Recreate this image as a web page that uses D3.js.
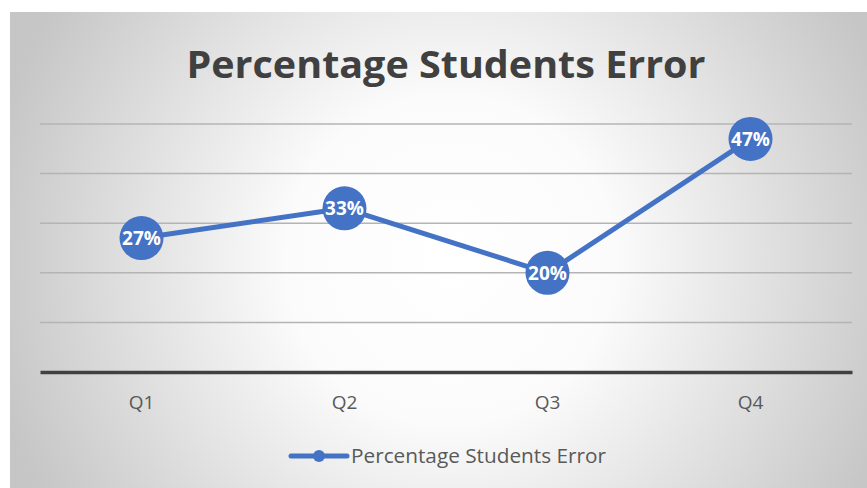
<!DOCTYPE html>
<html>
<head>
<meta charset="utf-8">
<script src="https://cdn.jsdelivr.net/npm/d3@7"></script>
<style>
  body { margin: 0; background: #fff; }
  svg { display: block; }
</style>
</head>
<body>
<svg id="chart" width="867" height="488"></svg>
<script>
// quarterly error rates
const quarters = ["Q1", "Q2", "Q3", "Q4"];
const errorRates = [27, 33, 20, 47];
const gridTicks = [0, 10, 20, 30, 40, 50];
const seriesName = "Percentage Students Error";
const chartTitle = "Percentage Students Error";

const width = 867, height = 488;
const margin = { top: 124, right: 15, bottom: 116, left: 40 };
const blue = "#4472C4";

const svg = d3.select("#chart");

// panel background: radial gray-to-white
const defs = svg.append("defs");
const grad = defs.append("radialGradient")
  .attr("id", "bg")
  .attr("gradientUnits", "userSpaceOnUse")
  .attr("cx", 450).attr("cy", 260).attr("r", 470);
grad.append("stop").attr("offset", "0%").attr("stop-color", "#ffffff");
grad.append("stop").attr("offset", "35%").attr("stop-color", "#fbfbfb");
grad.append("stop").attr("offset", "100%").attr("stop-color", "#c6c6c6");

svg.append("rect")
  .attr("x", 10).attr("y", 12)
  .attr("width", width - 10).attr("height", height - 12)
  .attr("fill", "url(#bg)");

const g = svg.append("g")
  .attr("transform", `translate(${margin.left},${margin.top})`);
const innerW = width - margin.left - margin.right;
const innerH = height - margin.top - margin.bottom;

const x = d3.scaleBand().domain(quarters).range([0, innerW]);
const y = d3.scaleLinear().domain([0, 50]).range([innerH, 0]);

// gridlines
g.selectAll(".grid")
  .data(gridTicks.filter(t => t > 0))
  .enter()
  .append("line")
  .attr("class", "grid")
  .attr("x1", 0).attr("x2", innerW)
  .attr("y1", d => y(d)).attr("y2", d => y(d))
  .attr("stroke", "#b4b4b4")
  .attr("stroke-width", 1.5);

// x axis
const xAxis = g.append("g")
  .attr("transform", `translate(0,${innerH})`)
  .call(d3.axisBottom(x).tickSize(0).tickPadding(24));
xAxis.select(".domain")
  .attr("stroke", "#404040")
  .attr("stroke-width", 3.5);
xAxis.selectAll("text")
  .style("font-family", "'Open Sans', sans-serif")
  .style("font-size", "19px")
  .attr("fill", "#595959");

// series line
const cx = d => x(d.q) + x.bandwidth() / 2;
const pts = quarters.map((q, i) => ({ q, v: errorRates[i] }));

const line = d3.line()
  .x(cx)
  .y(d => y(d.v));

g.append("path")
  .datum(pts)
  .attr("d", line)
  .attr("fill", "none")
  .attr("stroke", blue)
  .attr("stroke-width", 5)
  .attr("stroke-linejoin", "round");

g.selectAll(".marker")
  .data(pts)
  .enter()
  .append("circle")
  .attr("class", "marker")
  .attr("cx", cx)
  .attr("cy", d => y(d.v))
  .attr("r", 22)
  .attr("fill", blue);

g.selectAll(".label")
  .data(pts)
  .enter()
  .append("text")
  .attr("class", "label")
  .attr("x", cx)
  .attr("y", d => y(d.v))
  .attr("dy", "0.36em")
  .attr("text-anchor", "middle")
  .style("font-family", "'Open Sans', sans-serif")
  .style("font-weight", "bold")
  .style("font-size", "19px")
  .attr("fill", "#fff")
  .text(d => d.v + "%");

// title
svg.append("text")
  .attr("x", 446)
  .attr("y", 78)
  .attr("text-anchor", "middle")
  .attr("textLength", 519)
  .attr("lengthAdjust", "spacingAndGlyphs")
  .style("font-family", "'Open Sans', sans-serif")
  .style("font-weight", "bold")
  .style("font-size", "37px")
  .attr("fill", "#404040")
  .text(chartTitle);

// legend
const legend = svg.append("g")
  .attr("transform", "translate(291,456)");
legend.append("line")
  .attr("x1", 0).attr("x2", 56)
  .attr("stroke", blue)
  .attr("stroke-width", 5)
  .attr("stroke-linecap", "round");
legend.append("circle")
  .attr("cx", 28).attr("r", 6)
  .attr("fill", blue);
legend.append("text")
  .attr("x", 60)
  .attr("dy", "0.35em")
  .attr("textLength", 255)
  .attr("lengthAdjust", "spacingAndGlyphs")
  .style("font-family", "'Open Sans', sans-serif")
  .style("font-size", "20px")
  .attr("fill", "#595959")
  .text(seriesName);
</script>
</body>
</html>
